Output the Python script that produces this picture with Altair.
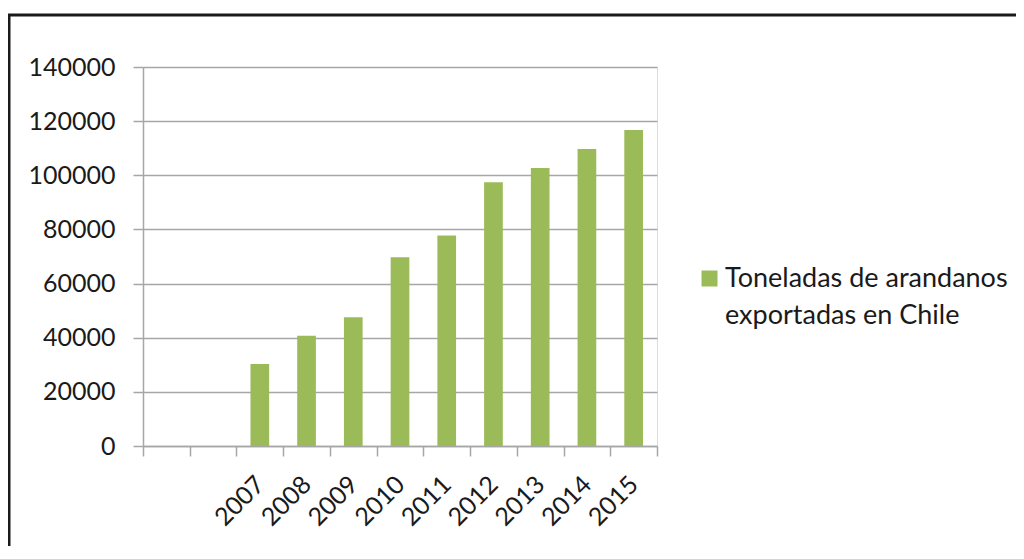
import altair as alt
import pandas as pd
import json

# ---- data ----
categories = ["", " ", "2007", "2008", "2009", "2010", "2011", "2012", "2013", "2014", "2015"]
toneladas = [None, None, 30300, 40700, 47600, 69700, 77800, 97400, 102700, 109700, 116700]
series_lines = ["Toneladas de arandanos", "exportadas en Chile"]
series_name = " ".join(series_lines)
y_ticks = [0, 20000, 40000, 60000, 80000, 100000, 120000, 140000]

df = pd.DataFrame({"anio": categories, "toneladas": toneladas, "serie": series_name})

FONT = "Lato"
GRID = "#a6a6a6"
GREEN = "#9BBB59"
W, H = 514, 379

bars = alt.Chart(df).mark_bar(width=alt.RelativeBandSize(0.4)).encode(
    x=alt.X("anio:N", sort=categories,
            scale=alt.Scale(domain=categories, paddingInner=0, paddingOuter=0),
            axis=alt.Axis(title=None, labelAngle=-45, labelFontSize=25, labelFont=FONT,
                          labelColor="#1a1a1a", tickBand="extent", tickSize=10,
                          tickColor=GRID, tickWidth=1.5, domainColor=GRID, domainWidth=1.5,
                          labelPadding=24, grid=False, labelAlign="right",
                          labelBaseline="middle")),
    y=alt.Y("toneladas:Q",
            scale=alt.Scale(domain=[0, 140000], nice=False),
            axis=alt.Axis(title=None, values=y_ticks, format="d", labelFontSize=25,
                          labelFont=FONT, labelColor="#1a1a1a", tickSize=10,
                          tickColor=GRID, tickWidth=1.5, domainColor=GRID, domainWidth=1.5,
                          gridColor=GRID, gridWidth=1.5, labelPadding=18)),
    color=alt.Color("serie:N", scale=alt.Scale(range=[GREEN]),
                    legend=alt.Legend(title=None, orient="none", legendX=553, legendY=198,
                                      symbolType="square", symbolSize=256,
                                      symbolStrokeWidth=0, labelFont=FONT,
                                      labelFontSize=27, labelColor="#1a1a1a",
                                      labelLimit=0, labelOffset=2, padding=0,
                                      labelExpr=json.dumps(series_lines))),
)

frame = alt.Chart(alt.Data(values=[{}])).mark_rect(
    filled=False, stroke="#1a1a1a", strokeWidth=3
).encode(
    x=alt.value(-134), x2=alt.value(W + 400),
    y=alt.value(-52), y2=alt.value(H + 200),
)

chart = alt.layer(bars, frame).properties(
    width=W, height=H,
    autosize=alt.AutoSizeParams(type="none"),
    padding={"left": 135, "top": 59, "right": 359, "bottom": 100},
).configure_view(stroke=None).configure(
    style={"guide-label": {"lineHeight": 37}}
)

chart.save("out.html", embed_options={"renderer": "svg", "actions": False})
